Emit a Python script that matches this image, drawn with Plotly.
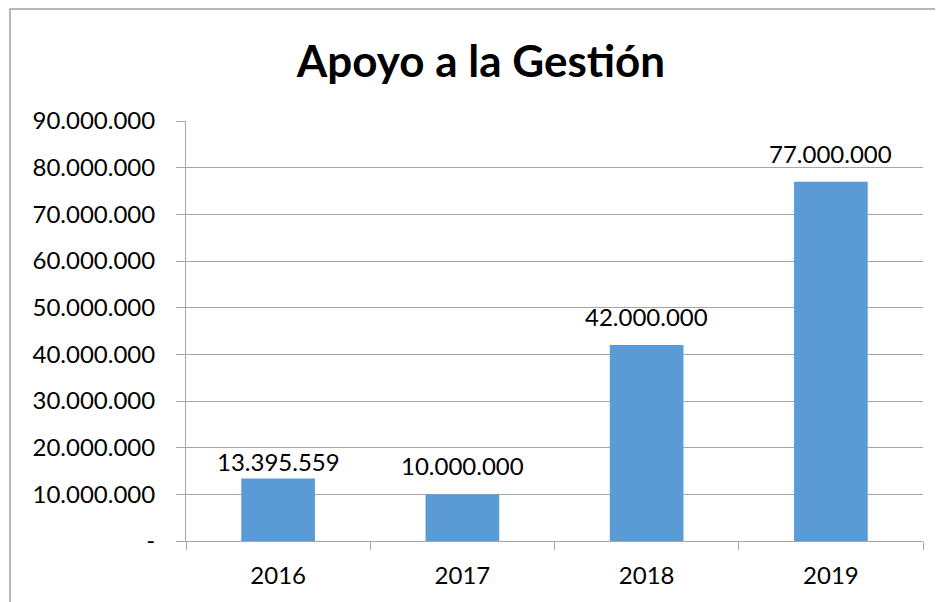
import plotly.graph_objects as go

categories = ["2016", "2017", "2018", "2019"]
values = [13395559, 10000000, 42000000, 77000000]
y_tickvals = [0, 10000000, 20000000, 30000000, 40000000, 50000000, 60000000, 70000000, 80000000, 90000000]
y_ticktext = ["-", "10.000.000", "20.000.000", "30.000.000", "40.000.000", "50.000.000",
              "60.000.000", "70.000.000", "80.000.000", "90.000.000"]

FONT = "Lato, Open Sans, sans-serif"
GRID = "#A6A6A6"
label_shift = [0, 12, 12, 12]  # px gap of each data label above its bar

fig = go.Figure()
fig.add_trace(go.Bar(
    x=categories, y=values,
    marker=dict(color="#5B9BD5", line=dict(width=0)),
    width=0.4,
    cliponaxis=False,
))

for i, (v, s) in enumerate(zip(values, label_shift)):
    fig.add_annotation(
        x=i, y=v, xref="x", yref="y", text=f"{v:,}".replace(",", "."),
        showarrow=False, yanchor="bottom", xanchor="center", yshift=s,
        font=dict(family=FONT, size=24, color="black"),
    )

L, R, T, B = 178, 28, 113, 69
PW, PH = 943 - L - R, 602 - T - B

fig.update_layout(
    width=943, height=602,
    margin=dict(l=L, r=R, t=T, b=B, autoexpand=False),
    paper_bgcolor="white", plot_bgcolor="white",
    showlegend=False,
    font=dict(family=FONT, color="black"),
    title=dict(text="<b>Apoyo a la Gestión</b>", x=473/943, xref="container", xanchor="center",
               y=1 - 54/602, yref="container", yanchor="middle",
               font=dict(family=FONT, size=44, color="black")),
    xaxis=dict(
        type="category", categoryorder="array", categoryarray=categories,
        range=[-0.5, len(categories) - 0.5],
        tickson="boundaries", ticks="outside", ticklen=8, tickcolor=GRID,
        showline=True, linecolor=GRID, linewidth=1, showgrid=False, automargin=False,
        tickfont=dict(family=FONT, size=24, color="black"),
        ticklabelstandoff=13,
    ),
    yaxis=dict(
        range=[0, 90000000], tickvals=y_tickvals, ticktext=y_ticktext,
        ticks="outside", ticklen=9, tickcolor=GRID, automargin=False,
        showline=True, linecolor=GRID, linewidth=1,
        showgrid=True, gridcolor=GRID, gridwidth=1, zeroline=False,
        tickfont=dict(family=FONT, size=24, color="black"),
        ticklabelstandoff=16,
    ),
    bargap=0.6,
)

fig.add_shape(type="rect", xref="paper", yref="paper",
              x0=(2 - L) / PW, x1=(960 - L) / PW, y0=-1.0, y1=(T + PH - 1) / PH,
              line=dict(color="#A0A0A0", width=1.5), fillcolor="rgba(0,0,0,0)", layer="below")

fig.write_html("out.html")
